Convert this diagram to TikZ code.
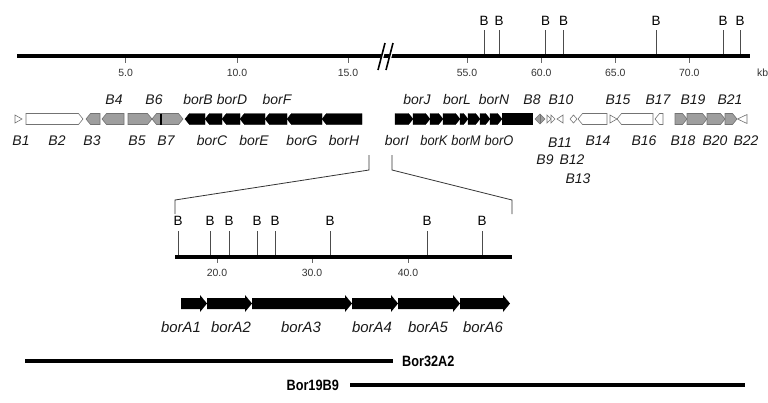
\documentclass[tikz,border=0pt]{standalone}
\usepackage{fontspec}
\setmainfont{Liberation Sans}
\newcommand\gR[3][wht]{\filldraw[#1] ({#2},113.5) -- ({max(#2,#3-4.5)},113.5) -- ({#3},119) -- ({max(#2,#3-4.5)},124.5) -- ({#2},124.5) -- cycle;}
\newcommand\gL[3][wht]{\filldraw[#1] ({#3},113.5) -- ({min(#3,#2+4.5)},113.5) -- ({#2},119) -- ({min(#3,#2+4.5)},124.5) -- ({#3},124.5) -- cycle;}
\newcommand\bigarr[2]{\fill ({#1},298) -- ({#2-7},298) -- ({#2-7},295) -- ({#2},303.5) -- ({#2-7},312) -- ({#2-7},309) -- ({#1},309) -- cycle;}
\begin{document}
\begin{tikzpicture}[x=1bp,y=-1bp,
  lab/.style={font=\fontsize{14}{16}\selectfont\itshape, inner sep=0pt, text=black!90},
  labn/.style={font=\fontsize{14}{16}\selectfont\itshape, inner sep=0pt, text=black!90, xscale=0.92},
  labA/.style={font=\fontsize{15}{17}\selectfont\itshape, inner sep=0pt, text=black!90},
  ticklab/.style={font=\fontsize{10.5}{12}\selectfont, inner sep=0pt, text=black!80},
  bmark/.style={font=\fontsize{13.5}{15}\selectfont, inner sep=0pt},
  clone/.style={font=\fontsize{15}{17}\selectfont\bfseries, inner sep=0pt, xscale=0.85},
  bline/.style={line width=0.8pt, draw=black!70},
  tickline/.style={line width=0.8pt, draw=black!60},
  blk/.style={fill=black, draw=black, line width=0.4pt},
  gry/.style={fill=black!38, draw=black!55, line width=0.6pt},
  wht/.style={fill=white, draw=black!55, line width=0.6pt},
  zoomline/.style={line width=0.8pt, draw=black!80}]
\useasboundingbox (0,0) rectangle (768,402);

% ---------- top axis ----------
\coordinate (axL) at (17,56);
\coordinate (axR) at (750,56);
\draw[line width=5pt] (axL) -- (axR);
\draw[line width=2.5pt, draw=white] (379,70) -- (386,42) (387,70) -- (394,42);
\draw[line width=1.6pt] (378,70) -- (385,43) (386,70) -- (393,43);
\foreach \x/\t [count=\i] in {125.7/5.0, 237/10.0, 348/15.0, 467/55.0, 541.3/60.0, 615.3/65.0, 689.3/70.0} {
  \draw[tickline] (\x,58) -- (\x,63);
  \node[ticklab] (tk\i) at (\x,72.5) {\t};
}
\node[ticklab, anchor=west] (kb) at (757,72.5) {kb};
\foreach \x [count=\i] in {484, 499, 545.7, 563.7, 656, 723, 740} {
  \node[bmark] (tb\i) at (\x,21) {B};
  \draw[bline] (\x,30) -- (\x,53.5);
}

% ---------- gene row, left ----------
\filldraw[wht] (15,115) -- (22,119) -- (15,123) -- cycle;
\gR[wht]{26}{83}
\gL[gry]{86}{100}
\gL[gry]{102}{124}
\gR[gry]{128}{152}
\gL[gry]{152}{161}
\gR[gry]{161}{183}
\draw[line width=1.2pt] (161,113.5) -- (161,124.5);
\gL[blk]{185}{205}
\gL[blk]{205}{222}
\gL[blk]{222}{240}
\gL[blk]{240}{265}
\gL[blk]{265}{287}
\gL[blk]{287}{322}
\gL[blk]{322}{362}

% ---------- gene row, right ----------
\gR[blk]{395}{413}
\gR[blk]{413}{430}
\gR[blk]{430}{443}
\gR[blk]{443}{460}
\gR[blk]{460}{468}
\gR[blk]{468}{480}
\gR[blk]{480}{490}
\gR[blk]{490}{502}
\filldraw[blk] (502,113.5) rectangle (532,124.5);
\filldraw[gry] (535,119) -- (540,114) -- (545,119) -- (540,124) -- cycle;
\draw[black!55, line width=0.6pt] (540,114) -- (540,124);
\filldraw[wht] (547,115) -- (551,119) -- (547,123) -- cycle;
\filldraw[wht] (551,115) -- (555,119) -- (551,123) -- cycle;
\filldraw[wht] (563,115) -- (557,119) -- (563,123) -- cycle;
\filldraw[wht] (573.5,115) -- (570,119) -- (573.5,123) -- (577,119) -- cycle;
\gL[wht]{578}{607}
\filldraw[wht] (610,115) -- (617,119) -- (610,123) -- cycle;
\gL[wht]{617}{653}
\gL[wht]{655}{663}
\gR[gry]{675}{687}
\gR[gry]{687}{707}
\gR[gry]{707}{725}
\gR[gry]{725}{737}
\filldraw[wht] (747,114.5) -- (737.5,119) -- (747,123.5) -- cycle;

% ---------- gene labels ----------
\foreach \x/\t in {114/B4, 154/B6, 198/borB, 232/borD, 277/borF, 417/borJ, 457/borL, 494/borN, 532/B8, 561/B10, 618/B15, 658/B17, 693/B19, 730/B21}
  \node[lab] (top-\t) at (\x,100) {\t};
\foreach \x/\t in {21/B1, 57/B2, 92/B3, 137/B5, 166/B7, 212/borC, 254/borE, 302/borG, 344/borH, 397/borI, 598/B14, 644/B16, 683/B18, 715/B20, 746/B22}
  \node[lab] (bot-\t) at (\x,141) {\t};
\foreach \x/\t in {434/borK, 466/borM, 499/borO}
  \node[labn] (bot-\t) at (\x,141) {\t};
\node[lab] (bot-B11) at (560,143) {B11};
\node[lab] (bot-B9) at (545,160) {B9};
\node[lab] (bot-B12) at (572,160) {B12};
\node[lab] (bot-B13) at (578,179) {B13};

% ---------- zoom bracket ----------
\coordinate (zl0) at (369,155);
\coordinate (zl1) at (369,170);
\coordinate (zl2) at (175,200);
\coordinate (zl3) at (175,214);
\coordinate (zr0) at (392,155);
\coordinate (zr1) at (392,170);
\coordinate (zr2) at (512,200);
\coordinate (zr3) at (512,214);
\draw[zoomline] (zl0) -- (zl1) -- (zl2) -- (zl3);
\draw[zoomline] (zr0) -- (zr1) -- (zr2) -- (zr3);

% ---------- detail axis ----------
\coordinate (dL) at (175,257);
\coordinate (dR) at (512,257);
\draw[line width=4pt] (dL) -- (dR);
\foreach \x/\t [count=\i] in {217/20.0, 312/30.0, 408/40.0} {
  \draw[tickline] (\x,259) -- (\x,263);
  \node[ticklab] (dk\i) at (\x,273) {\t};
}
\foreach \x [count=\i] in {178, 210, 229, 257, 275, 330, 427, 482} {
  \node[bmark] (db\i) at (\x,221) {B};
  \draw[bline] (\x,231) -- (\x,255);
}

% ---------- borA genes ----------
\bigarr{181}{207}
\bigarr{207}{252}
\bigarr{252}{352}
\bigarr{352}{398}
\bigarr{398}{460}
\bigarr{460}{510}
\foreach \x/\t in {181/borA1, 231/borA2, 301/borA3, 372/borA4, 428/borA5, 483/borA6}
  \node[labA] (lab-\t) at (\x,327) {\t};

% ---------- clones ----------
\node[clone, anchor=west] (c32) at (402,361) {Bor32A2};
\coordinate (c32s) at (25,361);
\draw[line width=3.5pt] (c32s) -- (393,361);
\node[clone, anchor=east] (c19) at (339,385) {Bor19B9};
\coordinate (c19e) at (745,385);
\draw[line width=3.5pt] (350,385) -- (c19e);
\end{tikzpicture}
\end{document}
